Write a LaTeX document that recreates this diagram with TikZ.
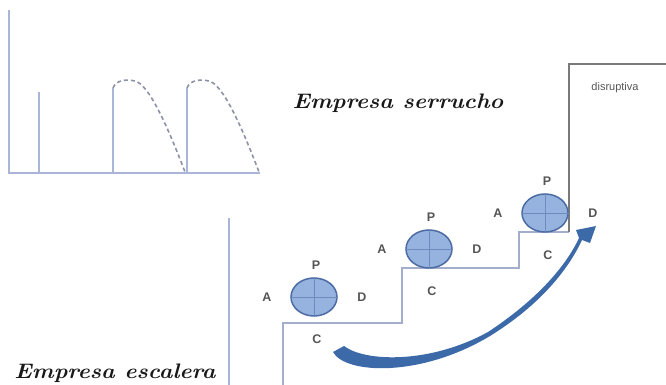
\documentclass[tikz,border=0pt]{standalone}
\usepackage{fontspec}
\newfontfamily\labelfont{Liberation Sans}
\usetikzlibrary{shapes.geometric}
\definecolor{axisblue}{HTML}{A9B6DA}
\definecolor{dashgray}{HTML}{8C92A6}
\definecolor{ballfill}{HTML}{95B3DE}
\definecolor{balledge}{HTML}{4C6CA3}
\definecolor{arrowblue}{HTML}{3C69A8}
\definecolor{labgray}{HTML}{555555}
\definecolor{boxgray}{HTML}{7A7A7A}
\newcommand{\widetitle}[1]{\scalebox{1.1}[1]{#1}}

\tikzset{
  axis/.style={axisblue,line width=1.3pt},
  saw/.style={dashgray,line width=1.6pt,dash pattern=on 4pt off 3pt},
  stair/.style={axisblue!85!gray,line width=1.2pt},
  ball/.style={ellipse,draw=balledge,fill=ballfill,line width=1.5pt,minimum width=46pt,minimum height=38pt,inner sep=0pt},
  cross/.style={balledge!55!ballfill,line width=0.6pt},
  lab/.style={text=labgray,font=\labelfont\bfseries\fontsize{12.5}{12.5}\selectfont,inner sep=0pt},
  title/.style={text=black!90,font=\bfseries\itshape\fontsize{21}{21}\selectfont,inner sep=0pt}
}

\begin{document}
\begin{tikzpicture}[x=1pt,y=-1pt]
\useasboundingbox (0,0) rectangle (666,385);

% sawtooth chart
\coordinate (o) at (9,173);
\coordinate (ytop) at (9,10);
\coordinate (xend) at (260,173);
\coordinate (b1) at (39,173);
\coordinate (b1t) at (39,92);
\coordinate (b2) at (113,173);
\coordinate (b2t) at (113,88);
\coordinate (b3) at (187,173);
\coordinate (b3t) at (187,88);
\coordinate (f2) at (185,172);
\coordinate (f3) at (259,172);

\draw[axis] (ytop) -- (o) -- (xend);
\draw[axis] (b1) -- (b1t);
\draw[axis] (b2) -- (b2t);
\draw[axis] (b3) -- (b3t);
\draw[saw] (b2t) .. controls (116,80) and (126,79) .. (135,81) .. controls (148,84) and (166,122) .. (f2);
\draw[saw] (b3t) .. controls (190,80) and (200,79) .. (209,81) .. controls (222,84) and (240,122) .. (f3);

\node[title] (serrucho) at (398,103) {\widetitle{Empresa serrucho}};

% staircase
\coordinate (wall1) at (229,218);
\coordinate (wall0) at (229,385);
\coordinate (s0) at (283,385);
\coordinate (s1) at (283,323);
\coordinate (s2) at (402,323);
\coordinate (s3) at (402,268);
\coordinate (s4) at (519,268);
\coordinate (s5) at (519,232);
\coordinate (s6) at (569,232);
\coordinate (s7) at (569,64);
\coordinate (s8) at (666,64);

\draw[axis] (wall1) -- (wall0);
\draw[stair] (s0) -- (s1) -- (s2) -- (s3) -- (s4) -- (s5) -- (s6);
\draw[boxgray,line width=1.1pt] (s6) -- (s7) -- (s8);
\node[text=labgray,font=\labelfont\fontsize{11}{11}\selectfont,inner sep=0pt] (disr) at (615,88) {disruptiva};

\foreach \n/\x/\y in {1/314/297,2/429/249,3/545/213}{
  \node[ball] (e\n) at (\x,\y) {};
  \draw[cross] (e\n.north) -- (e\n.south) (e\n.west) -- (e\n.east);
  \node[lab] (p\n) at ([shift={(2,-32)}]e\n) {P};
  \node[lab] (a\n) at ([shift={(-47,0)}]e\n) {A};
  \node[lab] (d\n) at ([shift={(48,0)}]e\n) {D};
  \node[lab] (c\n) at ([shift={(3,42)}]e\n) {C};
}

% curved arrow
\coordinate (tail) at (333,352);
\coordinate (head) at (596,226);
\fill[arrowblue] (tail) .. controls (345,374) and (420,378) .. (490,336)
  .. controls (540,305) and (568,270) .. (582,240)
  -- (590,243) -- (head) -- (576,230) -- (579,238)
  .. controls (565,268) and (535,301) .. (488,332)
  .. controls (430,364) and (365,362) .. (344,346) -- cycle;

\node[title] (escalera) at (115,373) {\widetitle{Empresa escalera}};
\end{tikzpicture}
\end{document}
